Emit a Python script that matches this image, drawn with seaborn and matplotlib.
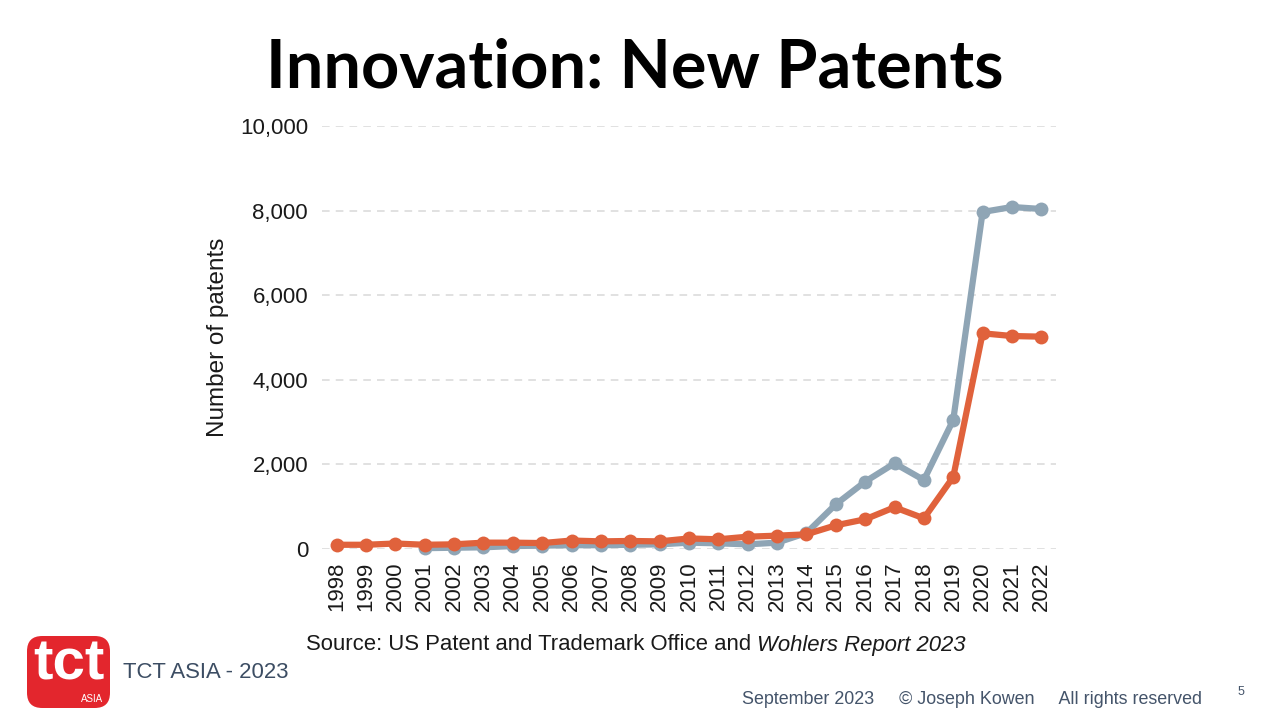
import numpy as np
import pandas as pd
import matplotlib
matplotlib.use("Agg")
import matplotlib.pyplot as plt
import seaborn as sns
from matplotlib.patches import FancyBboxPatch

years = list(range(1998, 2023))
series_names = ["Series A", "Series B"]
gray_values = [np.nan, np.nan, np.nan, 20, 30, 40, 70, 80, 90, 90, 100, 110, 150,
               134, 110, 150, 378, 1056, 1592, 2025, 1631, 3050, 7967, 8085, 8038]
orange_values = [100, 100, 130, 100, 110, 150, 150, 140, 200, 180, 190, 180, 250,
                 229, 291, 315, 347, 560, 702, 986, 725, 1702, 5099, 5035, 5020]
y_ticks = [0, 2000, 4000, 6000, 8000, 10000]

df = pd.DataFrame({
    "Year": years * 2,
    "Patents": gray_values + orange_values,
    "Series": [series_names[0]] * len(years) + [series_names[1]] * len(years),
})

sns.set_theme(style="white")
plt.rcParams["font.family"] = ["Liberation Sans", "DejaVu Sans"]

fig = plt.figure(figsize=(12.7, 7.15), dpi=100)
ax = fig.add_axes([322 / 1270, 1 - 549 / 715, (1056 - 322) / 1270, (549 - 126) / 715])

palette = {series_names[0]: "#8fa5b5", series_names[1]: "#e0623c"}
sns.lineplot(data=df, x="Year", y="Patents", hue="Series", palette=palette,
             marker="o", markersize=10, markeredgewidth=0, linewidth=4.5,
             legend=False, ax=ax, clip_on=False)

ax.set_xlim(1997.5, 2022.5)
ax.set_ylim(0, 10000)
ax.set_xticks(years)
ax.set_xticklabels([str(y) for y in years], rotation=90, fontsize=16, color="#1a1a1a")
ax.set_yticks(y_ticks)
ax.set_yticklabels([f"{v:,}" for v in y_ticks], fontsize=16, color="#1a1a1a")
ax.tick_params(axis="x", length=0, pad=9)
ax.tick_params(axis="y", length=0, pad=10)
ax.set_xlabel("")
ax.set_ylabel("Number of patents", fontsize=17.5, color="#1a1a1a", labelpad=8)
for s in ax.spines.values():
    s.set_visible(False)
ax.grid(axis="y", color="#d9d9d9", linestyle=(0, (5, 4)), linewidth=1.1)
ax.set_axisbelow(True)

# Title
fig.text(0.5, 1 - 68 / 715, "Innovation: New Patents", ha="center", va="center",
         fontsize=48, fontweight="bold", family=["Lato", "DejaVu Sans"], color="#000000")

# Source line with italic part
fig.canvas.draw()
renderer = fig.canvas.get_renderer()
t1 = fig.text(0, 1 - 645 / 715, "Source: US Patent and Trademark Office and ",
              ha="left", va="center", fontsize=15.9, color="#1a1a1a")
t2 = fig.text(0, 1 - 645 / 715, "Wohlers Report 2023", ha="left", va="center",
              fontsize=15.9, style="italic", color="#1a1a1a")
w1 = t1.get_window_extent(renderer).width
w2 = t2.get_window_extent(renderer).width
x0 = 636 - (w1 + w2) / 2
t1.set_x(x0 / 1270)
t2.set_x((x0 + w1) / 1270)

# Logo
logo = FancyBboxPatch((27 / 1270, 1 - 708 / 715), 83 / 1270, 72 / 715,
                      boxstyle="round,pad=0,rounding_size=0.012",
                      transform=fig.transFigure, facecolor="#e3262d",
                      edgecolor="none", mutation_aspect=1270 / 715)
fig.patches.append(logo)
fig.text(69 / 1270, 1 - 664 / 715, "tct", ha="center", va="center", fontsize=42,
         fontweight="bold", color="white")
fig.text(103 / 1270, 1 - 699 / 715, "ASIA", ha="right", va="center", fontsize=7,
         color="white")
fig.text(123 / 1270, 1 - 673 / 715, "TCT ASIA - 2023", ha="left", va="center",
         fontsize=15.9, color="#3c4d63")

# Footer
fig.text(742 / 1270, 1 - 700 / 715,
         "September 2023     \u00a9 Joseph Kowen     All rights reserved",
         ha="left", va="center", fontsize=12.9, color="#44546a")
fig.text(1241 / 1270, 1 - 692 / 715, "5", ha="center", va="center", fontsize=9,
         color="#44546a")

fig.savefig("out.png", dpi=100)
